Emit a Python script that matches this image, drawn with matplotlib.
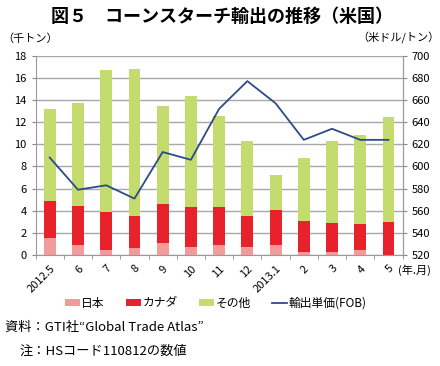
import numpy as np
import matplotlib.pyplot as plt

plt.rcParams['font.family'] = ['Noto Sans CJK JP', 'DejaVu Sans']

months  = ['2012.5', '6', '7', '8', '9', '10', '11', '12', '2013.1', '2', '3', '4', '5']
japan   = [1.53, 0.93, 0.48, 0.66, 1.11, 0.75, 0.93, 0.72, 0.90, 0.30, 0.30, 0.48, 0.05]
canada  = [4.90, 4.45, 3.85, 3.55, 4.63, 4.30, 4.33, 3.49, 4.03, 3.10, 2.92, 2.83, 3.00]  # cumulative top
total   = [13.17, 13.74, 16.72, 16.78, 13.41, 14.38, 12.51, 10.26, 7.25, 8.75, 10.32, 10.83, 12.48]
price   = [608, 579, 583, 571, 613, 606, 652, 677, 657, 624, 634, 624, 624]

japan  = np.array(japan)
canada = np.array(canada) - japan
other  = np.array(total) - japan - canada

c_jp, c_ca, c_ot, c_line = '#F29B9B', '#E8222A', '#C4DB6E', '#2E4A87'

fig = plt.figure(figsize=(4.4, 3.66), dpi=100)
ax = fig.add_axes([0.081, 0.303, 0.834, 0.545])
x = np.arange(len(months))
w = 0.42
ax.bar(x, japan, w, color=c_jp, label='日本', zorder=2)
ax.bar(x, canada, w, bottom=japan, color=c_ca, label='カナダ', zorder=2)
ax.bar(x, other, w, bottom=japan + canada, color=c_ot, label='その他', zorder=2)

ax.set_xlim(-0.5, len(months) - 0.5)
ax.set_ylim(0, 18)
ax.set_yticks(np.arange(0, 19, 2))
ax.yaxis.grid(True, color='#A8A8A8', lw=1.0, zorder=0)
ax.set_axisbelow(True)
ax.set_xticks(x)
ax.set_xticklabels(months, rotation=45, ha='right', rotation_mode='anchor', fontsize=8)
ax.set_xticks(np.arange(-0.5, len(months), 1), minor=True)
ax.tick_params(axis='x', which='major', length=0, pad=6)
ax.tick_params(axis='x', which='minor', length=3, color='#888888')
ax.tick_params(axis='y', labelsize=8, length=3, color='#888888')
ax.spines['top'].set_visible(False)
for s in ['left', 'right', 'bottom']:
    ax.spines[s].set_color('#999999')

ax2 = ax.twinx()
ax2.plot(x, price, color=c_line, lw=1.3, label='輸出単価(FOB)', zorder=3)
ax2.set_ylim(520, 700)
ax2.set_yticks(np.arange(520, 701, 20))
ax2.tick_params(axis='y', labelsize=8, length=3, color='#888888')
ax2.spines['top'].set_visible(False)
ax2.spines['right'].set_color('#999999')
ax2.spines['left'].set_visible(False)
ax2.spines['bottom'].set_visible(False)

fig.text(0.505, 0.955, '図５　コーンスターチ輸出の推移（米国）', ha='center', va='center',
         fontsize=13, fontweight='bold')
fig.text(0.005, 0.895, '（千トン）', ha='left', va='center', fontsize=8)
fig.text(0.998, 0.895, '（米ドル/トン）', ha='right', va='center', fontsize=8)
fig.text(0.905, 0.262, '(年.月)', ha='left', va='center', fontsize=8)

h1, l1 = ax.get_legend_handles_labels()
h2, l2 = ax2.get_legend_handles_labels()
fig.legend(h1 + h2, l1 + l2, loc='center', bbox_to_anchor=(0.49, 0.172), ncol=4,
           frameon=False, fontsize=8.5, handlelength=1.3, handleheight=0.6,
           handletextpad=0.1, columnspacing=1.8)

fig.text(0.012, 0.105, '資料：GTI社“Global Trade Atlas”', ha='left', va='center', fontsize=9.5)
fig.text(0.045, 0.04, '注：HSコード110812の数値', ha='left', va='center', fontsize=9.5)

fig.savefig('out.png', dpi=100)
